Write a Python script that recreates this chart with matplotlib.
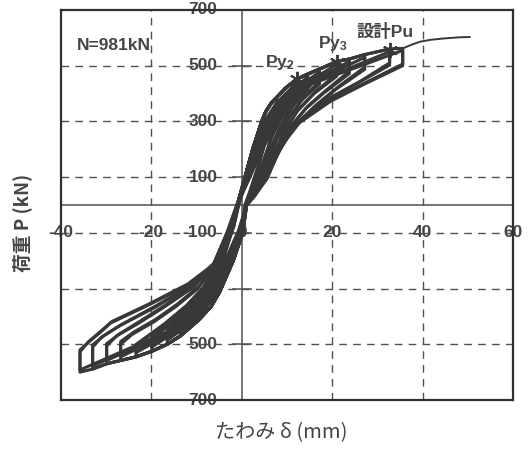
import matplotlib
matplotlib.use("Agg")
import matplotlib.pyplot as plt

# ---------------- data ----------------
# positive loading envelope (displacement mm, load kN)
env_pos_x = [-1.0, 0.7, 2.4, 4.4, 5.3, 6.5, 7.8, 9.7, 12.2, 14.6, 17.2, 21.0, 23.8, 27.2, 32.7, 35.6]
env_pos_y = [0, 100, 200, 300, 335, 365, 388, 420, 452, 470, 488, 515, 524, 540, 560, 562]
# negative loading envelope
env_neg_x = [1.0, 0.2, -1.9, -4.9, -6.8, -9.7, -13.6, -16.5, -19.9, -23.4, -26.8, -29.9, -33.0, -35.8]
env_neg_y = [0, -100, -200, -312, -365, -415, -470, -500, -525, -545, -558, -570, -589, -600]
# index of each first cycle's peak on the envelopes
pos_peak_idx = [6, 8, 9, 10, 11, 12, 13, 14, 15]
neg_peak_idx = [5, 6, 7, 8, 9, 10, 11, 12, 13]

# unloading branches after the positive peak of each first cycle
unl_pos_x = [
    [7.8, 5.8, 3.9, 1.9, 0.8],
    [12.2, 9.2, 6.8, 4.4, 1.9, 0.9],
    [14.6, 11.7, 8.8, 6.3, 4.4, 1.9, 1.0],
    [17.2, 13.6, 10.7, 7.8, 5.4, 2.4, 1.0],
    [21.0, 16.5, 12.6, 9.2, 6.3, 2.9, 1.0],
    [23.8, 18.5, 14.6, 10.7, 7.3, 4.9, 2.4, 1.0],
    [27.2, 21.4, 16.5, 11.7, 8.3, 5.4, 2.4, 1.0],
    [32.7, 26.3, 19.5, 13.6, 9.2, 5.8, 2.9, 1.1],
    [35.6, 27.6, 20.1, 12.6, 9.0, 5.7, 2.9, 1.1],
]
unl_pos_y = [
    [340, 260, 150, 50, 0],
    [405, 330, 250, 140, 45, 0],
    [425, 365, 290, 200, 110, 35, 0],
    [445, 385, 320, 240, 130, 40, 0],
    [470, 410, 345, 260, 150, 50, 0],
    [480, 410, 355, 280, 175, 95, 30, 0],
    [495, 425, 360, 285, 195, 100, 30, 0],
    [510, 445, 385, 315, 225, 110, 35, 0],
    [506, 441, 380, 298, 226, 100, 35, 0],
]
# unloading branches after the negative peak of each first cycle
unl_neg_x = [
    [-9.7, -7.3, -4.9, -2.9, -1.5, -0.7],
    [-13.6, -10.7, -7.8, -5.4, -3.4, -1.8, -0.8],
    [-16.5, -14.6, -11.7, -8.3, -5.8, -3.9, -1.9, -0.9],
    [-19.9, -17.5, -13.6, -9.7, -6.8, -4.4, -2.2, -0.9],
    [-23.4, -21.4, -17.5, -12.6, -8.8, -4.9, -2.5, -1.0],
    [-26.8, -24.3, -19.5, -14.6, -9.7, -5.4, -2.7, -1.0],
    [-29.9, -27.7, -23.4, -17.5, -10.7, -5.8, -2.9, -1.0],
    [-33.0, -31.1, -27.2, -19.5, -11.7, -6.3, -3.1, -1.0],
    [-35.8, -35.8, -34.0, -31.4, -29.2, -21.0, -12.2, -6.4, -3.3, -1.1],
]
unl_neg_y = [
    [-370, -310, -230, -130, -50, 0],
    [-430, -385, -320, -240, -150, -70, 0],
    [-460, -430, -390, -320, -250, -170, -80, 0],
    [-480, -450, -400, -335, -270, -190, -85, 0],
    [-510, -480, -435, -370, -305, -200, -90, 0],
    [-500, -465, -420, -365, -300, -205, -95, 0],
    [-506, -470, -430, -370, -295, -210, -100, 0],
    [-510, -475, -435, -370, -295, -215, -100, 0],
    [-600, -527, -492, -456, -425, -362, -290, -219, -100, 0],
]

# repeated cycles at the same amplitudes (full loops)
rep_x = [
    [-0.7, 1.0, 2.9, 5.0, 7.8, 7.8, 5.5, 3.6, 1.7, 0.7, 0.0, -1.9, -4.4, -7.0, -9.7, -9.7, -7.0, -4.6, -2.7, -1.3, -0.7],
    [-0.8, 1.1, 3.1, 5.4, 8.5, 12.2, 12.2, 9.0, 6.5, 4.2, 1.8, 0.8, -0.1, -2.3, -5.3, -9.0, -13.6, -13.6, -10.3, -7.5, -5.1, -3.2, -1.6, -0.8],
    [-0.8, 1.2, 3.3, 5.8, 9.5, 14.6, 14.6, 11.3, 8.5, 6.0, 4.1, 1.7, 0.9, -0.2, -2.5, -5.6, -10.0, -16.5, -16.5, -14.2, -11.2, -8.0, -5.5, -3.6, -1.7, -0.9],
    [-0.9, 1.3, 3.5, 6.2, 10.5, 17.2, 17.2, 13.2, 10.3, 7.5, 5.1, 2.2, 1.0, -0.3, -2.7, -6.0, -11.5, -19.9, -19.9, -17.0, -13.2, -9.4, -6.5, -4.2, -2.1, -0.9],
    [-0.9, 1.4, 3.7, 6.6, 11.5, 21.0, 21.0, 16.0, 12.2, 8.9, 6.0, 2.7, 1.0, -0.4, -2.9, -6.4, -12.5, -23.4, -23.4, -20.8, -17.0, -12.2, -8.5, -4.7, -2.4, -1.0],
    [-1.0, 1.5, 3.9, 7.0, 12.5, 23.8, 23.8, 18.0, 14.1, 10.3, 7.0, 4.6, 2.2, 1.0, -0.5, -3.1, -6.8, -13.5, -26.8, -26.8, -23.8, -19.0, -14.2, -9.4, -5.2, -2.6, -1.0],
    [-1.0, 1.6, 4.1, 7.4, 13.5, 27.2, 27.2, 20.8, 16.0, 11.3, 8.0, 5.2, 2.3, 1.0, -0.6, -3.3, -7.2, -14.5, -29.9, -29.9, -27.0, -22.8, -17.0, -10.3, -5.6, -2.8, -1.0],
    [-1.0, 1.7, 4.3, 7.8, 14.5, 32.7, 32.7, 25.6, 19.0, 13.2, 8.9, 5.6, 2.7, 1.1, -0.7, -3.5, -7.6, -15.5, -33.0, -33.0, -30.4, -26.5, -19.0, -11.3, -6.1, -3.0, -1.0],
    [-1.1, 1.8, 4.5, 8.2, 15.5, 35.6, 35.6, 27.0, 19.6, 12.3, 8.8, 5.6, 2.8, 1.1, -0.8, -3.7, -8.0, -16.5, -35.8, -35.8, -33.5, -30.8, -28.7, -20.5, -11.9, -6.3, -3.2, -1.1],
]
rep_y = [
    [0, 100, 200, 300, 370, 330, 250, 140, 45, 0, -90, -190, -290, -350, -400, -360, -300, -220, -120, -45, 0],
    [0, 100, 200, 300, 380, 440, 395, 320, 240, 130, 40, 0, -95, -200, -305, -390, -455, -420, -375, -310, -230, -140, -60, 0],
    [0, 100, 200, 300, 390, 460, 415, 355, 280, 190, 100, 30, 0, -95, -200, -310, -410, -485, -450, -420, -380, -310, -240, -160, -75, 0],
    [0, 100, 200, 300, 400, 478, 435, 375, 310, 230, 120, 35, 0, -95, -200, -310, -420, -510, -470, -440, -390, -325, -260, -180, -80, 0],
    [0, 100, 200, 300, 410, 505, 462, 400, 335, 250, 140, 45, 0, -95, -200, -310, -430, -530, -500, -470, -425, -360, -295, -190, -85, 0],
    [0, 100, 200, 300, 420, 515, 472, 400, 345, 270, 165, 88, 25, 0, -95, -200, -310, -440, -545, -490, -455, -410, -355, -290, -198, -90, 0],
    [0, 100, 200, 300, 425, 530, 487, 415, 350, 275, 185, 95, 25, 0, -95, -200, -310, -445, -558, -498, -462, -420, -360, -285, -200, -95, 0],
    [0, 100, 200, 300, 430, 550, 502, 437, 375, 305, 215, 105, 30, 0, -95, -200, -310, -450, -578, -502, -468, -428, -362, -288, -208, -98, 0],
    [0, 100, 200, 300, 435, 555, 500, 433, 372, 290, 218, 95, 32, 0, -95, -200, -310, -455, -592, -520, -487, -450, -418, -355, -283, -214, -98, 0],
]

# final monotonic push beyond the last cycle
push_x = [37.5, 39.4, 41.8, 44.8, 48.2, 50.4]
push_y = [575, 586, 593, 598, 602, 603]

# marked points (Py2, Py3, design Pu)
mark_x = [12.2, 21.0, 32.7]
mark_y = [452, 513, 556]
mark_labels = ["Py$\\mathregular{_2}$", "Py$\\mathregular{_3}$", "設計Pu"]
label_x = [5.1, 16.8, 25.4]
label_y = [510, 581, 621]

x_ticks = [-40, -20, 0, 20, 40, 60]
x_tick_labels = ["-40", "-20", "0", "20", "40", "60"]
y_ticks = [700, 500, 300, 100, -100, -300, -500, -700]
y_tick_labels = ["700", "500", "300", "100", "-100", "", "500", "700"]
x_grid = [-20, 20, 40]
y_grid = [500, 300, 100, -100, -300, -500]

# ---------------- drawing ----------------
plt.rcParams["font.family"] = ["Liberation Sans", "Noto Sans CJK JP", "DejaVu Sans"]
INK = "#383838"
TXT = "#454545"

fig = plt.figure(figsize=(5.3, 4.5), dpi=100)
ax = fig.add_axes([0.1151, 0.1111, 0.8528, 0.8667])
ax.set_xlim(-40, 60)
ax.set_ylim(-700, 700)
ax.set_xticks([])
ax.set_yticks([])
for s in ax.spines.values():
    s.set_linewidth(1.6)
    s.set_color("#303030")

dash = (0, (5.5, 4.5))
for gx in x_grid:
    ax.axvline(gx, color="#505050", lw=1.0, linestyle=dash, zorder=1)
for gy in y_grid:
    ax.axhline(gy, color="#505050", lw=1.0, linestyle=dash, zorder=1)
ax.axvline(0, color="#505050", lw=1.1, zorder=1)
ax.axhline(0, color="#505050", lw=1.1, zorder=1)
ax.plot([0] * len(y_ticks), y_ticks, linestyle="none", marker="_",
        markersize=14, markeredgewidth=1.1, color="#505050", zorder=1)

# hysteresis loops
LW = 2.2
for k in range(len(pos_peak_idx)):
    ip = pos_peak_idx[k]
    ineg = neg_peak_idx[k]
    xs = env_pos_x[:ip + 1] + unl_pos_x[k] + env_neg_x[1:ineg + 1] + unl_neg_x[k]
    ys = env_pos_y[:ip + 1] + unl_pos_y[k] + env_neg_y[1:ineg + 1] + unl_neg_y[k]
    ax.plot(xs, ys, color=INK, lw=LW, solid_joinstyle="round", zorder=3)
for xs, ys in zip(rep_x, rep_y):
    ax.plot(xs, ys, color=INK, lw=LW, solid_joinstyle="round", zorder=3)
ax.plot(env_pos_x + push_x, env_pos_y + push_y, color=INK, lw=1.4, zorder=3)

ax.plot(mark_x, mark_y, linestyle="none", marker=(6, 2, 0), markersize=11,
        markeredgewidth=1.4, color=INK, zorder=4)

for lx, ly, t in zip(label_x, label_y, mark_labels):
    ax.text(lx, ly, t, fontsize=12.5, color=TXT, ha="left", va="center",
            fontweight="bold", zorder=5)
ax.text(-36.5, 571, "N=981kN", fontsize=12.5, color=TXT, ha="left", va="center",
        fontweight="bold", zorder=5)

# tick labels drawn on the inner axes lines
for xv, lab in zip(x_ticks, x_tick_labels):
    ax.text(xv, -100, lab, fontsize=12.5, color=TXT, ha="center", va="center",
            fontweight="bold", zorder=2, clip_on=False)
for yv, lab in zip(y_ticks, y_tick_labels):
    ax.text(-5.4, yv, lab, fontsize=12.5, color=TXT, ha="right", va="center",
            fontweight="bold", zorder=2, clip_on=False)

fig.text(0.042, 0.505, "荷重 P (kN)", rotation=90, fontsize=13.5, color=TXT,
         ha="center", va="center", family=["Noto Sans CJK JP", "DejaVu Sans"],
         fontweight="bold")
fig.text(0.53, 0.038, "たわみ δ (mm)", fontsize=14.5, color=TXT,
         ha="center", va="center", family=["Noto Sans CJK JP", "DejaVu Sans"])

fig.savefig("out.png", dpi=100, facecolor="white")
